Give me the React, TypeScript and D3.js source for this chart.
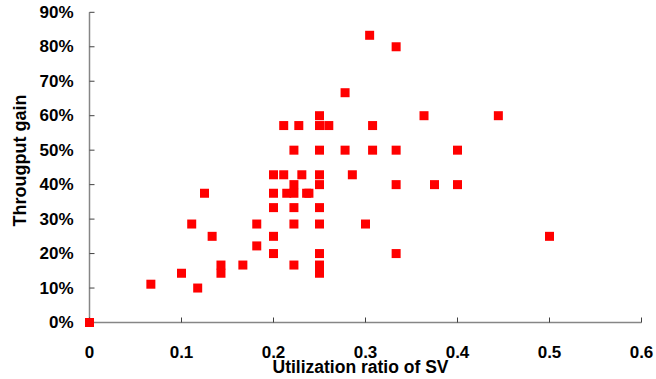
import React from "react";
import * as d3 from "d3";

const xValues: number[] = [
  0, 0.0667, 0.1, 0.1176, 0.1111, 0.125, 0.1333, 0.1429, 0.1429, 0.1667,
  0.1818, 0.1818, 0.2, 0.2, 0.2, 0.2, 0.2, 0.2111, 0.2111, 0.2144,
  0.2222, 0.2222, 0.2222, 0.2222, 0.2222, 0.2222, 0.2275, 0.2308, 0.236, 0.2385,
  0.25, 0.25, 0.25, 0.25, 0.25, 0.25, 0.25, 0.25, 0.25, 0.25,
  0.2601, 0.2778, 0.2778, 0.2857, 0.3, 0.3045, 0.3077, 0.3077, 0.3333, 0.3333,
  0.3333, 0.3333, 0.3636, 0.375, 0.4, 0.4, 0.4444, 0.5,
];
const yValues: number[] = [
  0, 0.1111, 0.1429, 0.1, 0.2857, 0.375, 0.25, 0.1667, 0.1429, 0.1667,
  0.2857, 0.2222, 0.2, 0.25, 0.3333, 0.375, 0.4286, 0.4286, 0.5714, 0.375,
  0.375, 0.4, 0.5, 0.3333, 0.2857, 0.1667, 0.5714, 0.4286, 0.375, 0.375,
  0.6, 0.5714, 0.5, 0.4286, 0.4, 0.3333, 0.2857, 0.2, 0.1667, 0.1429,
  0.5714, 0.6667, 0.5, 0.4286, 0.2857, 0.8333, 0.5714, 0.5, 0.8, 0.5,
  0.4, 0.2, 0.6, 0.4, 0.5, 0.4, 0.6, 0.25,
];
const xTicks: number[] = [0, 0.1, 0.2, 0.3, 0.4, 0.5, 0.6];
const yTicks: number[] = [0, 0.1, 0.2, 0.3, 0.4, 0.5, 0.6, 0.7, 0.8, 0.9];
const xTitle = "Utilization ratio of SV";
const yTitle = "Througput gain";

const W = 656;
const H = 379;
const FONT = "'Liberation Sans', Arial, sans-serif";

export default function App() {
  const x = d3.scaleLinear().domain([0, 0.6]).range([89.5, 641.5]);
  const y = d3.scaleLinear().domain([0, 0.9]).range([322.5, 12.3]);
  const pct = d3.format(".0%");
  const xfmt = (v: number) => String(+v.toFixed(1));
  const size = 9;

  return (
    <svg
      width={W}
      height={H}
      style={{ position: "absolute", left: 0, top: 0, background: "#fff" }}
      fontFamily={FONT}
    >
      {/* y axis */}
      <line x1={x(0)} x2={x(0)} y1={y(0.9)} y2={y(0)} stroke="#868686" strokeWidth={1.5} />
      {yTicks.map((t) => (
        <g key={"yt" + t}>
          <line x1={x(0)} x2={x(0) + 5} y1={y(t)} y2={y(t)} stroke="#404040" strokeWidth={1} />
          <text
            x={73.5}
            y={y(t)}
            textAnchor="end"
            dominantBaseline="central"
            fontSize={17}
            fontWeight="bold"
            fill="#000"
          >
            {pct(t)}
          </text>
        </g>
      ))}
      {/* x axis */}
      <line x1={x(0)} x2={x(0.6)} y1={y(0)} y2={y(0)} stroke="#868686" strokeWidth={1.5} />
      {xTicks.map((t) => (
        <g key={"xt" + t}>
          <line x1={x(t)} x2={x(t)} y1={y(0)} y2={y(0) - 5} stroke="#404040" strokeWidth={1} />
          <text
            x={x(t)}
            y={358}
            textAnchor="middle"
            fontSize={17}
            fontWeight="bold"
            fill="#000"
          >
            {xfmt(t)}
          </text>
        </g>
      ))}
      {/* titles */}
      <text x={360.5} y={372.5} textAnchor="middle" fontSize={17.5} fontWeight="bold" fill="#000">
        {xTitle}
      </text>
      <text
        transform={`translate(26,160.5) rotate(-90)`}
        textAnchor="middle"
        fontSize={18}
        fontWeight="bold"
        fill="#000"
      >
        {yTitle}
      </text>
      {/* points */}
      {xValues.map((xv, i) => (
        <rect
          key={"p" + i}
          x={x(xv) - size / 2}
          y={y(yValues[i]) - size / 2}
          width={size}
          height={size}
          fill="#FF0000"
        />
      ))}
    </svg>
  );
}
